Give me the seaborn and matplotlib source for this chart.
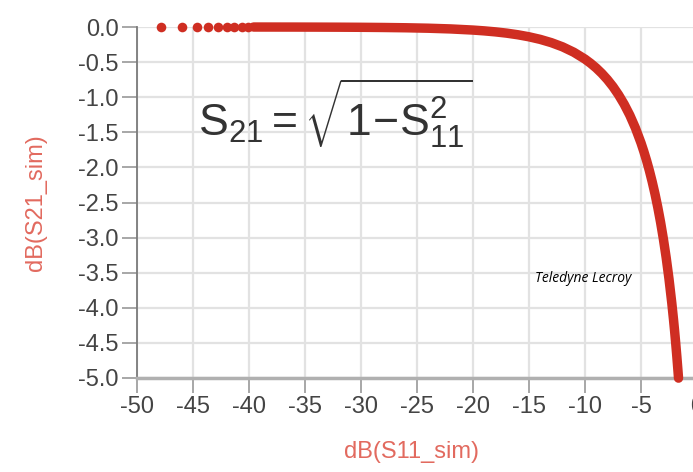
import matplotlib
matplotlib.use("Agg")
import matplotlib.pyplot as plt
import seaborn as sns
import pandas as pd

# Sparse dots at the far left (dB(S11_sim), dB(S21_sim))
sparse_x = [-47.9, -46.0, -44.6, -43.7, -42.8, -42.0, -41.3, -40.6, -40.1]
sparse_y = [0.0, 0.0, 0.0, 0.0, 0.0, 0.0, 0.0, 0.0, 0.0]

# Dense part of the trace
dense_x = [-39.6, -38.0, -36.0, -34.0, -32.0, -30.0, -28.0, -26.0, -24.0, -22.0,
           -20.0, -19.0, -18.0, -17.0, -16.0, -15.0, -14.0, -13.0, -12.0, -11.0,
           -10.0, -9.5, -9.0, -8.5, -8.0, -7.5, -7.0, -6.5, -6.0, -5.5,
           -5.0, -4.75, -4.5, -4.25, -4.0, -3.75, -3.5, -3.25, -3.0, -2.75,
           -2.5, -2.25, -2.1, -2.0, -1.9, -1.8, -1.7, -1.65]
dense_y = [-0.0005, -0.0007, -0.001, -0.0017, -0.0027, -0.0043, -0.0069, -0.0109, -0.0173, -0.0275,
           -0.0437, -0.0551, -0.0694, -0.0874, -0.1105, -0.1396, -0.1764, -0.2233, -0.2830, -0.3595,
           -0.4576, -0.517, -0.584, -0.661, -0.749, -0.850, -0.967, -1.101, -1.256, -1.438,
           -1.651, -1.772, -1.903, -2.047, -2.205, -2.378, -2.570, -2.783, -3.021, -3.287,
           -3.589, -3.933, -4.163, -4.329, -4.506, -4.694, -4.896, -5.002]

x_ticks = [-50, -45, -40, -35, -30, -25, -20, -15, -10, -5, 0]
y_ticks = [0.0, -0.5, -1.0, -1.5, -2.0, -2.5, -3.0, -3.5, -4.0, -4.5, -5.0]

sns.set_theme(style="white")
plt.rcParams["font.family"] = ["Liberation Sans", "DejaVu Sans"]
plt.rcParams["mathtext.fontset"] = "custom"
plt.rcParams["mathtext.rm"] = "Liberation Sans"
plt.rcParams["mathtext.it"] = "Liberation Sans:italic"
plt.rcParams["mathtext.bf"] = "Liberation Sans:bold"

trace_color = "#cf2e22"
label_color = "#e26a5f"

fig = plt.figure(figsize=(6.93, 4.72), dpi=100)
W, H = 693, 472
left, right, bottom, top = 137, 697, 378, 27
ax = fig.add_axes([left / W, 1 - bottom / H, (right - left) / W, (bottom - top) / H])

dense_df = pd.DataFrame({"x": dense_x, "y": dense_y})
sparse_df = pd.DataFrame({"x": sparse_x, "y": sparse_y})

sns.lineplot(data=dense_df, x="x", y="y", sort=False, ax=ax, color=trace_color,
             linewidth=6.8, solid_capstyle="round", solid_joinstyle="round",
             zorder=3, clip_on=False)
sns.scatterplot(data=sparse_df, x="x", y="y", ax=ax, color=trace_color, s=48,
                linewidth=0, zorder=4, clip_on=False)

ax.set_xlim(-50, 0)
ax.set_ylim(-5, 0)
ax.set_xticks(x_ticks)
ax.set_xticklabels([str(v) for v in x_ticks])
ax.set_yticks(y_ticks)
ax.set_yticklabels([f"{v:.1f}" for v in y_ticks])

ax.grid(True, color="#e2e2e2", linewidth=1.6)
ax.set_axisbelow(True)
for s in ["top", "right"]:
    ax.spines[s].set_visible(False)
ax.spines["left"].set_color("#7a7a7a")
ax.spines["left"].set_linewidth(1.3)
ax.spines["bottom"].set_color("#b0b0b0")
ax.spines["bottom"].set_linewidth(2.5)

ax.tick_params(axis="both", direction="out", length=11, width=1.3, color="#a0a0a0",
               labelcolor="#444444", labelsize=17, pad=2, left=True, bottom=True)

ax.set_xlabel("dB(S11_sim)", fontsize=17, color=label_color)
ax.set_ylabel("dB(S21_sim)", fontsize=17, color=label_color)
ax.yaxis.set_label_coords(-0.16, 0.5)
ax.xaxis.set_label_coords(0.49, -0.18)

fig.text(198 / W, 1 - 136 / H,
         r"$\mathrm{S}_{21} = \sqrt{1\!-\!\mathrm{S}_{11}^{2}}$",
         fontsize=32, color="#333333", va="baseline", ha="left")

fig.text(535 / W, 1 - 278 / H, "Teledyne Lecroy", fontsize=10, style="italic",
         family=["Open Sans", "DejaVu Sans"], color="black", va="center", ha="left")

fig.savefig("out.png", dpi=100)
